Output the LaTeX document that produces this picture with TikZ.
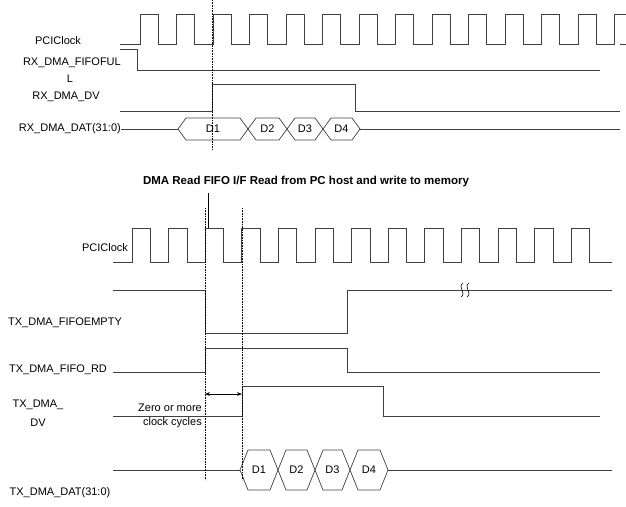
\documentclass[tikz,border=0pt]{standalone}
\usepackage{fontspec}
\setmainfont{Liberation Sans}
\usetikzlibrary{arrows.meta}
\newcommand\hexbus[6]{% name x1 x2 yc half label
  \draw[sig] (#2,#4) -- (#2+8,#4-#5) -- (#3-8,#4-#5) -- (#3,#4) -- (#3-8,#4+#5) -- (#2+8,#4+#5) -- cycle;
  \node[lbl] (#1) at ({(#2+#3)/2},#4) {#6};}
\begin{document}
\begin{tikzpicture}[x=1pt,y=-1pt,
  sig/.style={draw=black!75,line width=0.7pt},
  dot/.style={densely dotted,line width=0.6pt},
  lbl/.style={font=\fontsize{11}{12}\selectfont,inner sep=1pt}]
\useasboundingbox (0,0) rectangle (626,506);
% top clock
\draw[sig] (120,44) -- (140,44)
  \foreach \i in {0,...,12}{ -- ++(0,-30) -- ++(18.25,0) -- ++(0,30) -- ++(18.25,0)}
  -- ++(0,-30) -- ++(18.25,0) -- ++(0,30) -- (620,44);
\node[lbl] (c1) at (58,41) {PCIClock};
\draw[sig] (120,49) -- (137,49) -- (137,70) -- (600,70);
\node[lbl,anchor=east] (ful) at (122,63) {RX\_DMA\_FIFOFUL};
\node[lbl] (ful2) at (70,79) {L};
\draw[sig] (120,111) -- (212,111) -- (212,84) -- (355,84) -- (355,111) -- (620,111);
\node[lbl] (rxdv) at (66,97) {RX\_DMA\_DV};
\node[lbl,anchor=east,inner sep=0pt] (rxdat) at (121,129) {RX\_DMA\_DAT(31:0)};
\draw[sig] (rxdat.east) -- (178,129);
\hexbus{r1}{178}{248}{129}{11}{D1}
\hexbus{r2}{248}{287}{129}{11}{D2}
\hexbus{r3}{287}{323}{129}{11}{D3}
\hexbus{r4}{323}{360}{129}{11}{D4}
\draw[sig] (360,129) -- (620,129);
\draw[dot] (212,0) -- (212,150);
\node[lbl,font=\bfseries\fontsize{11.5}{12}\selectfont] (title) at (306,182) {DMA Read FIFO I/F Read from PC host and write to memory};
% bottom clock
\draw[sig,black] (208,193) -- (208,228);
\draw[sig] (113,262) -- (132,262)
  \foreach \i in {0,...,11}{ -- ++(0,-34) -- ++(18.3,0) -- ++(0,34) -- ++(18.3,0)}
  -- ++(0,-34) -- ++(18.3,0) -- ++(0,34) -- (612,262);
\node[lbl] (c2) at (105,248) {PCIClock};
\draw[sig] (113,290) -- (205,290) -- (205,333) -- (347,333) -- (347,290) -- (612,290);
\draw[line width=0.6pt] (463,283) .. controls (457,287) and (467,293) .. (461,297);
\draw[line width=0.6pt] (469,283) .. controls (463,287) and (473,293) .. (467,297);
\node[lbl] (emp) at (65,323) {TX\_DMA\_FIFOEMPTY};
\draw[sig] (205,348) -- (347,348) -- (347,372) -- (600,372);
\draw[sig] (113,372) -- (205,372) -- (205,348);
\node[lbl] (rd) at (58,370) {TX\_DMA\_FIFO\_RD};
\draw[sig] (113,416) -- (242,416) -- (242,386) -- (383,386) -- (383,416) -- (600,416);
\node[lbl] (txdv) at (38,405) {TX\_DMA\_};
\node[lbl] (txdv2) at (38,423) {DV};
\coordinate (aL) at (205,394);
\coordinate (aR) at (242,394);
\draw[{Stealth[length=5pt]}-{Stealth[length=5pt]},line width=0.6pt] (aL) -- (aR);
\node[lbl,anchor=east] (z1) at (203,408) {Zero or more};
\node[lbl,anchor=east] (z2) at (203,423) {clock cycles};
\draw[sig] (113,470) -- (240,470);
\hexbus{t1}{240}{278}{470}{20}{D1}
\hexbus{t2}{278}{315}{470}{20}{D2}
\hexbus{t3}{315}{350}{470}{20}{D3}
\hexbus{t4}{350}{388}{470}{20}{D4}
\draw[sig] (388,470) -- (612,470);
\node[lbl] (txdat) at (60,493) {TX\_DMA\_DAT(31:0)};
\draw[dot] (205,208) -- (205,480);
\draw[dot] (242,208) -- (242,480);
\end{tikzpicture}
\end{document}
